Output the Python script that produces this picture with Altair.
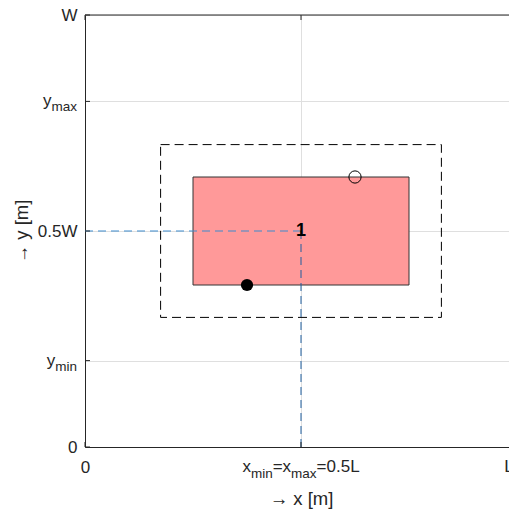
import altair as alt
import pandas as pd

# ---------------- data ----------------
rect_x = [0.25, 0.75]          # red element
rect_y = [0.375, 0.625]
box_x = [0.175, 0.825]         # dashed envelope
box_y = [0.30, 0.70]
pt_filled = [0.375, 0.375]
pt_open = [0.625, 0.625]
centre = [0.5, 0.5]
centre_label = "1"
x_ticks = [0, 0.5, 1]
x_tick_labels = ["0", "x_min=x_max=0.5L", "L"]
y_ticks = [0, 0.2, 0.5, 0.8, 1]
y_tick_labels = ["0", "y_min", "0.5W", "y_max", "W"]
x_title = "\u2192 x [m]"
y_title = "\u2192 y [m]"

# ---------------- style ----------------
FONT = "Liberation Sans"
F = 17      # tick label size
S = 13.5    # subscript size
TXT = "#262626"
W_PLOT, H_PLOT = 432, 432
EDGE_SHIFT = -8   # keeps the right-edge label inside the visible page

ADV = {'x': 500, 'm': 833, 'i': 222, 'n': 556, 'a': 556, '=': 584, '0': 556,
       '.': 278, '5': 556, 'L': 556, 'y': 500, 'W': 944}


def tw(s, size):
    return sum(ADV.get(c, 556) for c in s) * size / 1000.0


def parse(label):
    segs, cur, i = [], "", 0
    while i < len(label):
        if label[i] == "_":
            if cur:
                segs.append((cur, False))
                cur = ""
            j = i + 1
            while j < len(label) and label[j].isalpha():
                j += 1
            segs.append((label[i + 1:j], True))
            i = j
        else:
            cur += label[i]
            i += 1
    if cur:
        segs.append((cur, False))
    return segs


def label_expr(ticks, labels, skip_max=False):
    parts = []
    for v, l in zip(ticks, labels):
        txt = l if ("_" not in l and not (skip_max and v == max(ticks))) else ""
        parts.append(f"datum.value == {v} ? '{txt}'")
    return " : ".join(parts) + " : ''"


xs = alt.Scale(domain=[0, 1], nice=False, zero=False)
ys = alt.Scale(domain=[0, 1], nice=False, zero=False)

df_rect = pd.DataFrame({"x": [rect_x[0]], "x2": [rect_x[1]], "y": [rect_y[0]], "y2": [rect_y[1]]})
df_box = pd.DataFrame({"x": [box_x[0]], "x2": [box_x[1]], "y": [box_y[0]], "y2": [box_y[1]]})

base_axes = alt.Chart(pd.DataFrame({"x": [0, 1], "y": [0, 1]})).mark_point(opacity=0).encode(
    x=alt.X("x:Q", scale=xs, axis=alt.Axis(
        values=x_ticks, labelExpr=label_expr(x_ticks, x_tick_labels, skip_max=True),
        ticks=False, tickSize=0,
        labelPadding=25, labelBaseline="alphabetic", labelFontSize=F, labelColor=TXT, labelFont=FONT,
        labelFlush=False, labelOverlap=False,
        grid=True, gridColor="#DFDFDF", domainColor=TXT,
        title=x_title, titleFontSize=18.5, titleFontWeight="normal", titleColor=TXT, titleFont=FONT,
        titleY=51, titleBaseline="middle")),
    y=alt.Y("y:Q", scale=ys, axis=alt.Axis(
        values=y_ticks, labelExpr=label_expr(y_ticks, y_tick_labels), ticks=False, tickSize=0,
        labelPadding=8, labelFontSize=F, labelColor=TXT, labelFont=FONT,
        labelFlush=False, labelOverlap=False,
        grid=True, gridColor="#DFDFDF", domainColor=TXT,
        title=y_title, titleFontSize=18.5, titleFontWeight="normal", titleColor=TXT, titleFont=FONT,
        titleX=-64, titleY=216, titleBaseline="middle", titleAngle=-90)),
)

box = alt.Chart(df_box).mark_rect(filled=False, stroke="#000000", strokeWidth=1,
                                  strokeDash=[9, 5]).encode(
    x=alt.X("x:Q", scale=xs), x2="x2:Q", y=alt.Y("y:Q", scale=ys), y2="y2:Q")

red = alt.Chart(df_rect).mark_rect(fill="#FF9999", stroke="#333333", strokeWidth=1).encode(
    x=alt.X("x:Q", scale=xs), x2="x2:Q", y=alt.Y("y:Q", scale=ys), y2="y2:Q")

hline = alt.Chart(pd.DataFrame({"a": [0]})).mark_rule(color="#3D8BCD", strokeWidth=1,
                                                       strokeDash=[8, 5]).encode(
    x=alt.datum(0, scale=xs), x2=alt.datum(centre[0]), y=alt.datum(centre[1], scale=ys))
vline = alt.Chart(pd.DataFrame({"a": [0]})).mark_rule(color="#1F5F9F", strokeWidth=1,
                                                       strokeDash=[8, 5]).encode(
    x=alt.datum(centre[0], scale=xs), y=alt.datum(0, scale=ys), y2=alt.datum(centre[1]))

p_fill = alt.Chart(pd.DataFrame({"x": [pt_filled[0]], "y": [pt_filled[1]]})).mark_point(
    filled=True, color="#000000", size=150, opacity=1).encode(
    x=alt.X("x:Q", scale=xs), y=alt.Y("y:Q", scale=ys))
p_open = alt.Chart(pd.DataFrame({"x": [pt_open[0]], "y": [pt_open[1]]})).mark_point(
    filled=False, color="#000000", size=150, strokeWidth=1, opacity=1).encode(
    x=alt.X("x:Q", scale=xs), y=alt.Y("y:Q", scale=ys))

num = alt.Chart(pd.DataFrame({"x": [centre[0]], "y": [centre[1]], "t": [centre_label]})).mark_text(
    fontSize=18, fontWeight="bold", color="#000000", font=FONT, align="center", baseline="middle").encode(
    x=alt.X("x:Q", scale=xs), y=alt.Y("y:Q", scale=ys), text="t:N")

# frame (top) and inward ticks
one = pd.DataFrame({"a": [0]})
top = alt.Chart(one).mark_rule(color=TXT, strokeWidth=1).encode(
    x=alt.datum(0, scale=xs), x2=alt.datum(1), y=alt.datum(1, scale=ys))

df_yt = pd.DataFrame({"v": y_ticks})
df_xt = pd.DataFrame({"v": x_ticks})
tl = alt.Chart(df_yt).mark_rule(color=TXT, x2Offset=5).encode(
    y=alt.Y("v:Q", scale=ys), x=alt.datum(0, scale=xs), x2=alt.datum(0))
tr = alt.Chart(df_yt).mark_rule(color=TXT, x2Offset=-5).encode(
    y=alt.Y("v:Q", scale=ys), x=alt.datum(1, scale=xs), x2=alt.datum(1))
tb = alt.Chart(df_xt).mark_rule(color=TXT, y2Offset=-5).encode(
    x=alt.X("v:Q", scale=xs), y=alt.datum(0, scale=ys), y2=alt.datum(0))
tt = alt.Chart(df_xt).mark_rule(color=TXT, y2Offset=5).encode(
    x=alt.X("v:Q", scale=xs), y=alt.datum(1, scale=ys), y2=alt.datum(1))

# subscripted tick labels as text
sub_layers = []
for v, lab in zip(x_ticks, x_tick_labels):
    if "_" not in lab:
        if v == max(x_ticks):
            sub_layers.append(alt.Chart(one).mark_text(
                align="center", baseline="alphabetic", dx=EDGE_SHIFT, dy=25,
                fontSize=F, font=FONT, color=TXT).encode(
                x=alt.datum(v, scale=xs), y=alt.datum(0, scale=ys), text=alt.value(lab)))
        continue
    segs = parse(lab)
    total = sum(tw(t, S if s else F) for t, s in segs)
    cum = -total / 2
    for t, s in segs:
        size = S if s else F
        sub_layers.append(alt.Chart(one).mark_text(
            align="left", baseline="alphabetic", dx=cum, dy=31 if s else 25,
            fontSize=size, font=FONT, color=TXT).encode(
            x=alt.datum(v, scale=xs), y=alt.datum(0, scale=ys), text=alt.value(t)))
        cum += tw(t, size)

for v, lab in zip(y_ticks, y_tick_labels):
    if "_" not in lab:
        continue
    segs = parse(lab)
    right = -8
    for t, s in reversed(segs):
        size = S if s else F
        sub_layers.append(alt.Chart(one).mark_text(
            align="right", baseline="alphabetic", dx=right, dy=10 if s else 5,
            fontSize=size, font=FONT, color=TXT).encode(
            x=alt.datum(0, scale=xs), y=alt.datum(v, scale=ys), text=alt.value(t)))
        right -= tw(t, size)

chart = alt.layer(base_axes, box, red, hline, vline, p_fill, p_open, num,
                  top, tl, tr, tb, tt, *sub_layers).properties(
    width=W_PLOT, height=H_PLOT,
    autosize=alt.AutoSizeParams(type="none"),
    padding={"left": 77, "top": 7, "right": -8, "bottom": 62},
).configure_view(stroke=None).configure(font=FONT)

chart.save("out.html", embed_options={"renderer": "svg", "actions": False})
